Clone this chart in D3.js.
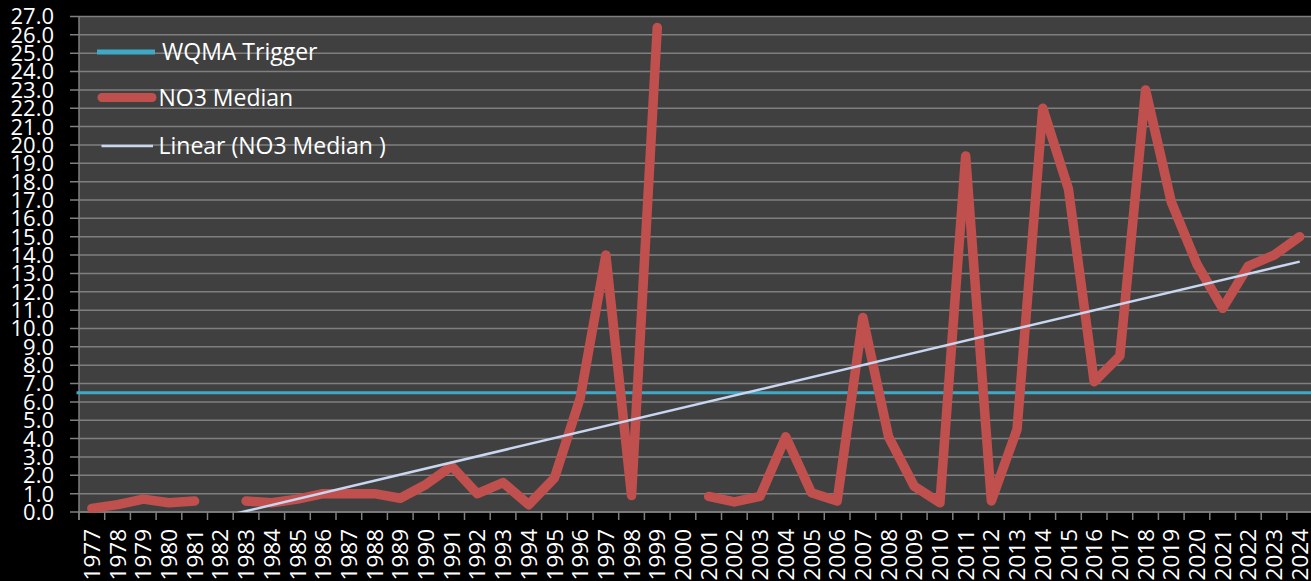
<!DOCTYPE html>
<html>
<head>
<meta charset="utf-8">
<script src="https://cdn.jsdelivr.net/npm/d3@7"></script>
<style>
  html, body { margin: 0; padding: 0; background: #000; }
  svg { display: block; }
  text { font-family: "Open Sans", "Noto Sans", sans-serif; fill: #fff; }
</style>
</head>
<body>
<svg id="chart" width="1311" height="581"></svg>
<script>
// Years on the category axis
const years = d3.range(1977, 2025).map(String);

// Median nitrate (NO3) per year; null = no sample that year
const no3Median = [
  0.2, 0.4, 0.7, 0.5, 0.6, null, 0.6, 0.5, 0.7, 1.0,
  1.0, 1.0, 0.75, 1.5, 2.5, 1.0, 1.6, 0.4, 1.85, 6.2,
  14.0, 0.9, 26.4, null, 0.85, 0.55, 0.85, 4.1, 1.05, 0.6,
  10.6, 4.1, 1.4, 0.5, 19.4, 0.6, 4.5, 22.0, 17.6, 7.1,
  8.5, 23.0, 16.9, 13.5, 11.1, 13.4, 14.0, 15.0
];

// Water-quality management area trigger level
const wqmaTrigger = 6.5;

// Y axis tick labels
const yTicks = d3.range(0, 28);

const legendLabels = ["WQMA Trigger", "NO3 Median", "Linear (NO3 Median )"];

const colors = {
  trigger: "#3fa8c4",
  no3: "#c0504d",
  trend: "#c8d6f0",
  grid: "#7f7f7f",
  plot: "#404040"
};

const svg = d3.select("#chart");
const plotLeft = 79, plotRight = 1312.6, plotTop = 16.5, plotBottom = 512;

const x = d3.scaleBand().domain(years).range([plotLeft, plotRight]).padding(0);
const y = d3.scaleLinear().domain([0, 27]).range([plotBottom, plotTop]);
const cx = yr => x(yr) + x.bandwidth() / 2;

// Plot background
svg.append("rect")
  .attr("x", plotLeft).attr("y", plotTop)
  .attr("width", plotRight - plotLeft).attr("height", plotBottom - plotTop)
  .attr("fill", colors.plot);

// Horizontal gridlines (with outward ticks on the value axis)
svg.append("g").selectAll("line")
  .data(yTicks)
  .join("line")
  .attr("x1", plotLeft - 9).attr("x2", plotRight)
  .attr("y1", d => y(d)).attr("y2", d => y(d))
  .attr("stroke", colors.grid).attr("stroke-width", 1.5);

// Value axis line
svg.append("line")
  .attr("x1", plotLeft).attr("x2", plotLeft)
  .attr("y1", plotTop).attr("y2", plotBottom + 8)
  .attr("stroke", colors.grid).attr("stroke-width", 1.5);

// Value axis labels
svg.append("g").selectAll("text")
  .data(yTicks)
  .join("text")
  .attr("x", 54)
  .attr("y", d => y(d))
  .attr("dy", "0.36em")
  .attr("text-anchor", "end")
  .attr("font-size", 22)
  .text(d => d3.format(".1f")(d));

// Category axis line and tick marks between categories
svg.append("line")
  .attr("x1", plotLeft).attr("x2", plotRight)
  .attr("y1", plotBottom).attr("y2", plotBottom)
  .attr("stroke", colors.grid).attr("stroke-width", 1.5);

svg.append("g").selectAll("line")
  .data(years.concat(["end"]))
  .join("line")
  .attr("x1", d => d === "end" ? plotRight : x(d))
  .attr("x2", d => d === "end" ? plotRight : x(d))
  .attr("y1", plotBottom).attr("y2", plotBottom + 8)
  .attr("stroke", colors.grid).attr("stroke-width", 1.5);

// Category labels, rotated
svg.append("g").selectAll("text")
  .data(years)
  .join("text")
  .attr("transform", d => `translate(${cx(d)},529) rotate(-90)`)
  .attr("dy", "0.36em")
  .attr("text-anchor", "end")
  .attr("font-size", 22.5)
  .text(d => d);

// Trigger level line
svg.append("line")
  .attr("x1", plotLeft - 2.5).attr("x2", plotRight)
  .attr("y1", y(wqmaTrigger)).attr("y2", y(wqmaTrigger))
  .attr("stroke", colors.trigger).attr("stroke-width", 3);

// NO3 median series
const series = years.map((yr, i) => ({ year: yr, i, v: no3Median[i] }));

const line = d3.line()
  .defined(d => d.v !== null)
  .x(d => cx(d.year))
  .y(d => y(d.v));

svg.append("path")
  .datum(series)
  .attr("d", line)
  .attr("fill", "none")
  .attr("stroke", colors.no3)
  .attr("stroke-width", 9.5)
  .attr("stroke-linejoin", "round")
  .attr("stroke-linecap", "round");

// Least-squares linear trend over the category index
const pts = series.filter(d => d.v !== null);
const mx = d3.mean(pts, d => d.i), my = d3.mean(pts, d => d.v);
const slope = d3.sum(pts, d => (d.i - mx) * (d.v - my)) / d3.sum(pts, d => (d.i - mx) ** 2);
const intercept = my - slope * mx;
const trendPts = [0, years.length - 1].map(i => ({ i, v: intercept + slope * i }));

svg.append("clipPath").attr("id", "trendClip")
  .append("rect")
  .attr("x", plotLeft).attr("y", plotTop)
  .attr("width", plotRight - plotLeft).attr("height", plotBottom - plotTop);

svg.append("path")
  .datum(trendPts)
  .attr("clip-path", "url(#trendClip)")
  .attr("d", d3.line().x(d => cx(years[d.i])).y(d => y(d.v)))
  .attr("fill", "none")
  .attr("stroke", colors.trend)
  .attr("stroke-width", 2.5);

// Legend
const legend = svg.append("g");
const legendItems = [
  { label: legendLabels[0], color: colors.trigger, w: 5, x1: 97, x2: 155, ly: 52, tx: 162, cap: "butt" },
  { label: legendLabels[1], color: colors.no3, w: 9, x1: 102, x2: 152, ly: 97.5, tx: 158.5, cap: "round" },
  { label: legendLabels[2], color: colors.trend, w: 2.5, x1: 101.5, x2: 153, ly: 146, tx: 158.5, cap: "butt" }
];
legendItems.forEach(d => {
  legend.append("line")
    .attr("x1", d.x1).attr("x2", d.x2)
    .attr("y1", d.ly).attr("y2", d.ly)
    .attr("stroke", d.color).attr("stroke-width", d.w)
    .attr("stroke-linecap", d.cap);
  legend.append("text")
    .attr("x", d.tx).attr("y", d.ly)
    .attr("dy", "0.36em")
    .attr("font-size", 23)
    .text(d.label);
});
</script>
</body>
</html>
